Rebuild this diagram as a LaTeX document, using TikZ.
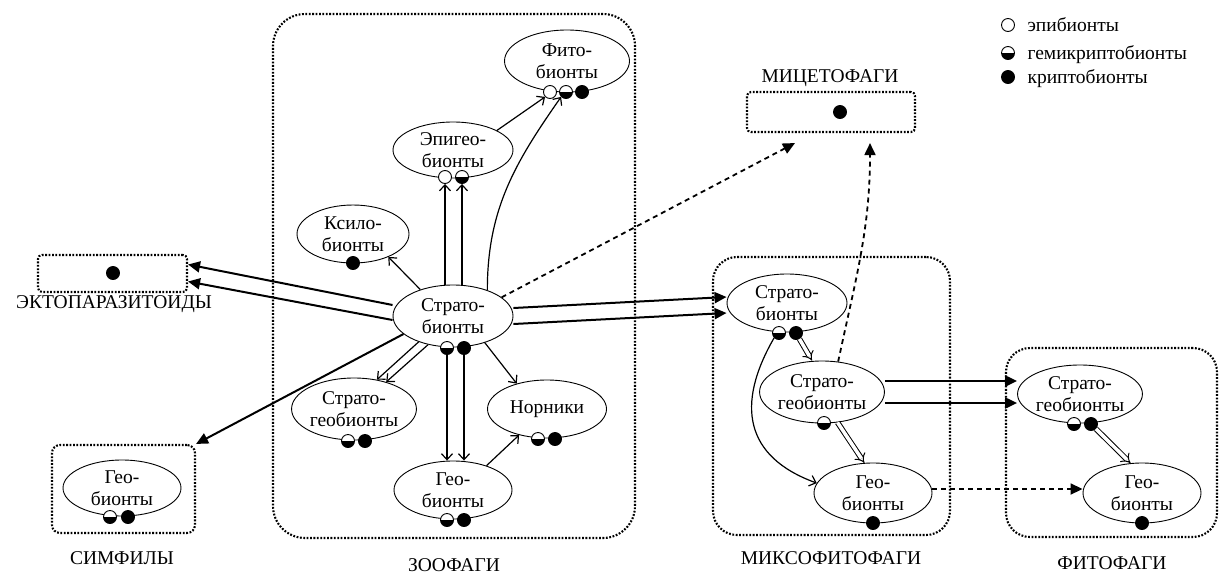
\documentclass[tikz,border=0pt]{standalone}
\usepackage{fontspec}
\setmainfont{Liberation Serif}
\usetikzlibrary{shapes.geometric,arrows.meta}

\begin{document}
\begin{tikzpicture}[x=1pt,y=-1pt,
  font=\fontsize{19.5}{22}\selectfont,
  grpbox/.style={draw, line width=2.1pt, dash pattern=on 1.8pt off 1.6pt, rounded corners=#1, inner sep=0pt},
  grpbox/.default=24pt,
  bio/.style={ellipse, draw, line width=0.9pt, inner sep=0pt, align=center, minimum width=118pt, minimum height=58pt},
  epi/.style={circle, draw, line width=0.9pt, inner sep=0pt, minimum size=13pt, fill=white},
  crypto/.style={epi, fill=black},
  hemi/.style={epi, path picture={\fill[black] (path picture bounding box.west) rectangle (path picture bounding box.south east);}},
  link/.style={line width=1.2pt, -{Straight Barb[length=6pt,width=11pt]}},
  boldlink/.style={line width=2pt, -{Triangle[length=12pt,width=11pt]}},
  dashlink/.style={line width=1.8pt, dash pattern=on 5pt off 4pt, -{Triangle[length=12pt,width=11pt]}},
  dbllink/.style={double, double distance=3.5pt, line width=1pt, -{Implies}}]
  \useasboundingbox (0,0) rectangle (1219,574);

  % groups
  \node[grpbox=32pt, minimum width=362pt, minimum height=524pt] (zoo) at (454,276) {};
  \node[grpbox, minimum width=237pt, minimum height=278pt] (mixo) at (831.5,396) {};
  \node[grpbox, minimum width=211pt, minimum height=189pt] (phyto) at (1111.5,442.5) {};
  \node[grpbox=8pt, minimum width=143pt, minimum height=88pt] (sym) at (123.5,489) {};
  \node[grpbox=4pt, minimum width=149pt, minimum height=37pt] (ecto) at (112.5,273.5) {};
  \node[grpbox=4pt, minimum width=168pt, minimum height=40pt] (myc) at (831,112) {};
  \node[anchor=base] (zoolbl) at (454,571) {ЗООФАГИ};
  \node[anchor=base] (mixolbl) at (831,564) {МИКСОФИТОФАГИ};
  \node[anchor=base] (phytolbl) at (1112,569) {ФИТОФАГИ};
  \node[anchor=base] (symlbl) at (122,564) {СИМФИЛЫ};
  \node[anchor=base] (ectolbl) at (114,308) {ЭКТОПАРАЗИТОИДЫ};
  \node[anchor=base] (myclbl) at (830,82) {МИЦЕТОФАГИ};
  \node[crypto] (ectoc) at (113,273) {};
  \node[crypto] (mycc) at (840,112) {};

  % zoophages
  \node[bio, minimum width=125pt, minimum height=62pt] (fb) at (567,61) {Фито-\\бионты};
  \node[epi] (fbe) at (550,92) {};
  \node[hemi] (fbh) at (566,92) {};
  \node[crypto] (fbc) at (582,92) {};
  \node[bio, minimum width=120pt, minimum height=56pt] (eb) at (453,150) {Эпигео-\\бионты};
  \node[epi] (ebe) at (445,177) {};
  \node[hemi] (ebh) at (462,177) {};
  \node[bio, minimum width=112pt] (xb) at (353,234) {Ксило-\\бионты};
  \node[crypto] (xbc) at (353,263) {};
  \node[bio, minimum width=120pt, minimum height=62pt] (sb1) at (453,316) {Страто-\\бионты};
  \node[hemi] (sb1h) at (447,348) {};
  \node[crypto] (sb1c) at (464,348) {};
  \node[bio, minimum height=62pt] (zsg) at (354,409) {Страто-\\геобионты};
  \node[hemi] (zsgh) at (348,441) {};
  \node[crypto] (zsgc) at (365,441) {};
  \node[bio, minimum width=119pt] (nb) at (547,409) {Норники};
  \node[hemi] (nbh) at (538,439) {};
  \node[crypto] (nbc) at (555,439) {};
  \node[bio] (gb1) at (453,490) {Гео-\\бионты};
  \node[hemi] (gb1h) at (447,520) {};
  \node[crypto] (gb1c) at (464,520) {};

  % symphiles
  \node[bio, minimum height=56pt] (sgb) at (122,488) {Гео-\\бионты};
  \node[hemi] (sgbh) at (110,517) {};
  \node[crypto] (sgbc) at (128,517) {};

  % mixophytophages
  \node[bio, minimum width=120pt] (msb) at (787,303) {Страто-\\бионты};
  \node[hemi] (msbh) at (779,333) {};
  \node[crypto] (msbc) at (796,333) {};
  \node[bio, minimum width=120pt, minimum height=62pt] (msg) at (822,392) {Страто-\\геобионты};
  \node[hemi] (msgh) at (824,423) {};
  \node[bio, minimum height=60pt] (mgb) at (873,493) {Гео-\\бионты};
  \node[crypto] (mgbc) at (873,523) {};

  % phytophages
  \node[bio] (psg) at (1080,394) {Страто-\\геобионты};
  \node[hemi] (psgh) at (1074,424) {};
  \node[crypto] (psgc) at (1091,424) {};
  \node[bio, minimum height=60pt] (pgb) at (1142,493) {Гео-\\бионты};
  \node[crypto] (pgbc) at (1142,523) {};

  % legend
  \node[epi] (le) at (1008,25) {};
  \node[anchor=base west] (letxt) at (1024,31) {эпибионты};
  \node[hemi] (lh) at (1008,53) {};
  \node[anchor=base west] (lhtxt) at (1024,59) {гемикриптобионты};
  \node[crypto] (lc) at (1008,77) {};
  \node[anchor=base west] (lctxt) at (1024,83) {криптобионты};

  % links inside zoophages
  \draw[link] (sb1.141) -- (xb.-33);
  \draw[link] (sb1.north -| ebe.south) -- (ebe.south);
  \draw[link] (sb1.north -| ebh.south) -- (ebh.south);
  \draw[link] (eb.24) -- (fbe.225);
  \draw[link] (sb1.37) to[out=90,in=235] (fbh.225);
  \draw[link] (sb1.217) -- (zsg.52);
  \draw[link] (sb1.229) -- (zsg.40);
  \draw[link] (sb1h.south) -- (sb1h.south |- gb1.north);
  \draw[link] (sb1c.south) -- (sb1c.south |- gb1.north);
  \draw[link] (sb1.-40) -- (nb.140);
  \draw[link] (gb1.36) -- (nb.223);

  % links between groups
  \draw[boldlink] ([yshift=11pt]sb1.west) -- ([yshift=9pt]ecto.east);
  \draw[boldlink] ([yshift=-4pt]sb1.west) -- ([yshift=-8pt]ecto.east);
  \draw[boldlink] (sb1.200) -- (sym.north east);
  \draw[boldlink] ([yshift=8pt]sb1.east) -- ([yshift=6pt]msb.west);
  \draw[boldlink] ([yshift=-8pt]sb1.east) -- ([yshift=-10pt]msb.west);
  \draw[dashlink] (sb1.21) -- ([xshift=-36pt,yshift=-10pt]myc.south);
  \draw[dashlink] (msg.62) to[out=78,in=-90] ([xshift=39pt,yshift=-10pt]myc.south);
  \draw[boldlink] ([yshift=11pt]msg.east) -- ([yshift=13pt]psg.west);
  \draw[boldlink] ([yshift=-11pt]msg.east) -- ([yshift=-9pt]psg.west);
  \draw[dashlink] ([yshift=4pt]mgb.east) -- ([yshift=4pt]pgb.west);

  % links inside mixophytophages and phytophages
  \draw[dbllink] (msbc) -- ([xshift=-10pt]msg.north);
  \draw[link] (msbh.225) to[out=240,in=160,looseness=1.3] (mgb.170);
  \draw[dbllink] (msg.-63) -- (mgb.106);
  \draw[dbllink] (psgc) -- (pgb.111);
\end{tikzpicture}
\end{document}
